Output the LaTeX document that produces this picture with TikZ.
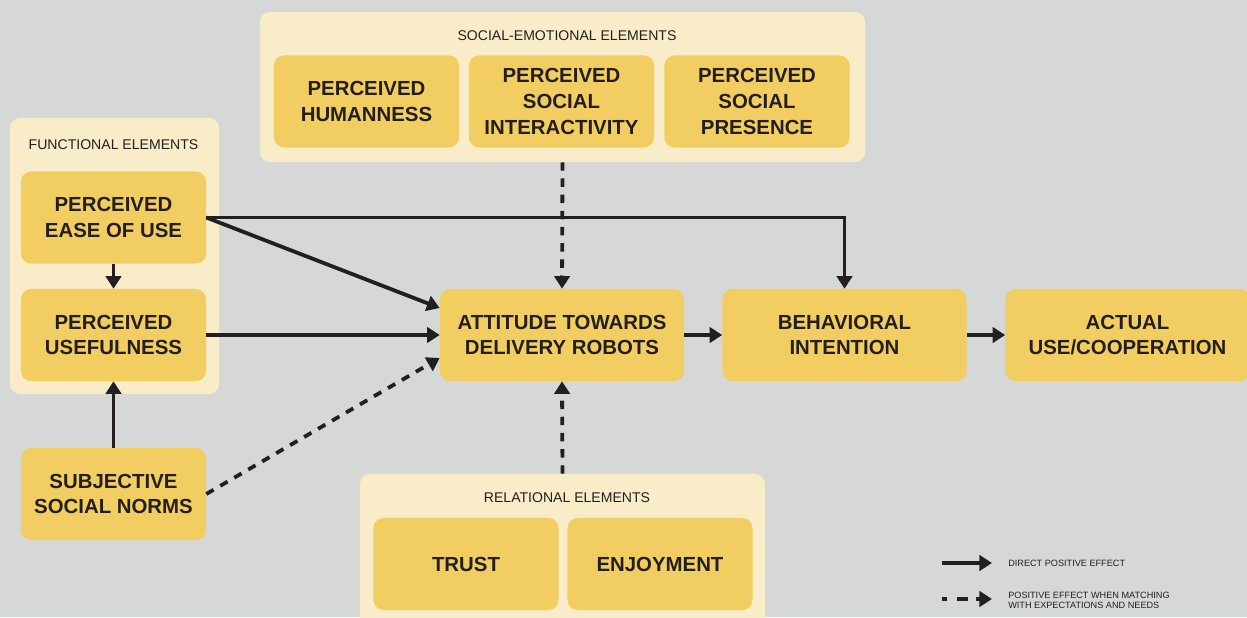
\documentclass[tikz,border=0pt]{standalone}
\usepackage{fontspec}
\setmainfont{Liberation Sans}
\usetikzlibrary{arrows.meta}
\definecolor{bgc}{HTML}{D6D8D7}
\definecolor{grpc}{HTML}{F8EDC8}
\definecolor{boxc}{HTML}{F2CD62}
\definecolor{ink}{HTML}{231F20}

\begin{document}
\begin{tikzpicture}[x=0.025cm, y=-0.025cm]
                  \tikzstyle{grp}=[fill=grpc, rounded corners=0.25cm, inner sep=0pt]
                  \tikzstyle{box}=[fill=boxc, rounded corners=0.25cm, minimum width=4.625cm, minimum height=2.3cm, align=center, text=ink, font=\fontsize{14.5}{18.3}\selectfont\bfseries, inner sep=0pt]
                  \tikzstyle{wbox}=[box, minimum width=6.1cm]
                  \tikzstyle{title}=[text=ink, font=\fontsize{10}{12}\selectfont]
                  \tikzstyle{legtext}=[text=ink, anchor=west, align=left, font=\fontsize{6.5}{7}\selectfont, inner sep=0pt]
                  \tikzstyle{direct}=[draw=ink, line width=2.7pt, -{Triangle[length=9pt, width=11pt]}]
                  \tikzstyle{match}=[direct, dash pattern=on 6pt off 5.5pt]

                  \path[clip] (0,0) rectangle (1247,617);
                  \fill[bgc] (0,0) rectangle (1247,617);

                  % groups
                  \node[grp, minimum width=15.125cm, minimum height=3.75cm] (social) at (562.5,87) {};
                  \node[title] at (567,36) {SOCIAL-EMOTIONAL ELEMENTS};
                  \node[grp, minimum width=5.225cm, minimum height=6.9cm] (functional) at (114.5,256) {};
                  \node[title] at (113.5,145) {FUNCTIONAL ELEMENTS};
                  \node[grp, minimum width=10.125cm, minimum height=4.15cm] (relational) at (562.5,557) {};
                  \node[title] at (567,498) {RELATIONAL ELEMENTS};

                  % boxes
                  \node[box] (humanness) at (366.5,101.5) {PERCEIVED\\HUMANNESS};
                  \node[box] (interactivity) at (561.5,101.5) {PERCEIVED\\SOCIAL\\INTERACTIVITY};
                  \node[box] (presence) at (757,101.5) {PERCEIVED\\SOCIAL\\PRESENCE};
                  \node[box] (ease) at (113.5,217.5) {PERCEIVED\\EASE OF USE};
                  \node[box] (useful) at (113.5,335) {PERCEIVED\\USEFULNESS};
                  \node[box] (norms) at (113.5,494) {SUBJECTIVE\\SOCIAL NORMS};
                  \node[wbox] (attitude) at (562,335) {ATTITUDE TOWARDS\\DELIVERY ROBOTS};
                  \node[wbox] (intention) at (844.5,335) {BEHAVIORAL\\INTENTION};
                  \node[wbox] (actual) at (1127.5,335) {ACTUAL\\USE/COOPERATION};
                  \node[box] (trust) at (466,564) {TRUST};
                  \node[box] (enjoyment) at (660,564) {ENJOYMENT};

                  % effects
                  \draw[direct] (ease.south) -- (useful.north);
                  \draw[direct] (norms.north) -- (useful.south);
                  \draw[direct] (ease.east) -- ([yshift=0.675cm]attitude.west);
                  \draw[direct] (ease.east) -- (intention.north |- ease.east) -- (intention.north);
                  \draw[direct] (useful.east) -- (attitude.west);
                  \draw[direct] (attitude.east) -- (intention.west);
                  \draw[direct] (intention.east) -- (actual.west);
                  \draw[match] (norms.east) -- ([yshift=-0.575cm]attitude.west);
                  \draw[match] (social.south) -- (attitude.north);
                  \draw[match] (relational.north) -- (attitude.south);

                  % legend
                  \coordinate (solidA) at (942,563);
                  \coordinate (solidB) at (992,563);
                  \coordinate (dashA) at (942,599);
                  \coordinate (dashB) at (992,599);
                  \draw[direct] (solidA) -- (solidB);
                  \draw[match, dash pattern=on 3.5pt off 7pt on 8pt off 6pt] (dashA) -- (dashB);
                  \node[legtext] (solidtext) at (1008,563) {DIRECT POSITIVE EFFECT};
                  \node[legtext] (dashtext) at (1008,600) {POSITIVE EFFECT WHEN MATCHING\\WITH EXPECTATIONS AND NEEDS};
                \end{tikzpicture}
\end{document}
